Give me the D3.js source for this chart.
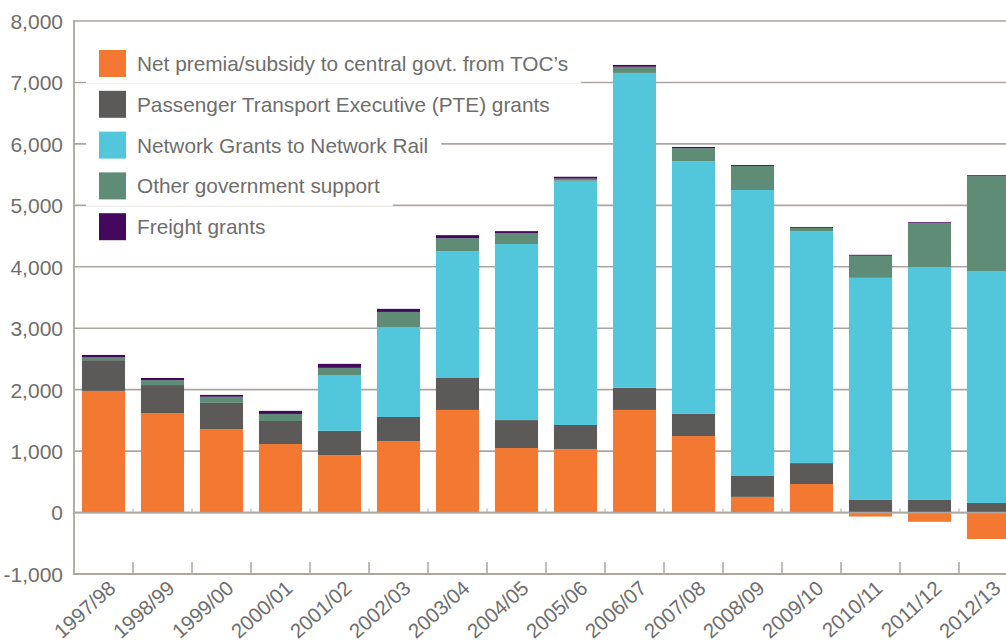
<!DOCTYPE html>
<html>
<head>
<meta charset="utf-8">
<script src="https://cdn.jsdelivr.net/npm/d3@7/dist/d3.min.js"></script>
<style>
  html, body { margin: 0; padding: 0; background: #fff; overflow: hidden; }
  svg { display: block; font-family: "Liberation Sans", Arial, Helvetica, sans-serif; }
</style>
</head>
<body>
<svg id="chart" width="1006" height="642"></svg>
<script>
// Rail industry government support by year (£m)
const years = ["1997/98","1998/99","1999/00","2000/01","2001/02","2002/03","2003/04","2004/05",
               "2005/06","2006/07","2007/08","2008/09","2009/10","2010/11","2011/12","2012/13"];

const netPremia     = [1980, 1620, 1360, 1115,  935, 1165, 1670, 1050, 1035, 1670, 1245,  255,  465,  -65, -150, -430];
const pteGrants     = [ 500,  455,  425,  375,  395,  390,  520,  455,  390,  360,  360,  340,  340,  205,  205,  155];
const networkGrants = [   0,    0,    0,    0,  900, 1465, 2065, 2865, 3975, 5125, 4115, 4655, 3775, 3615, 3790, 3775];
const otherSupport  = [  45,   80,  100,  115,  125,  245,  210,  180,   35,  100,  210,  390,   50,  360,  715, 1545];
const freightGrants = [  40,   35,   30,   50,   65,   50,   50,   30,   30,   30,   20,   15,   15,   15,   15,   15];

const seriesNames = [
  "Net premia/subsidy to central govt. from TOC\u2019s",
  "Passenger Transport Executive (PTE) grants",
  "Network Grants to Network Rail",
  "Other government support",
  "Freight grants"
];
const seriesColors = ["#f37831", "#5b5a58", "#52c7db", "#5e8c76", "#44095c"];
const yTicks = [-1000, 0, 1000, 2000, 3000, 4000, 5000, 6000, 7000, 8000];

const keys = ["net", "pte", "network", "other", "freight"];
const rows = years.map((yr, i) => ({
  year: yr, net: netPremia[i], pte: pteGrants[i], network: networkGrants[i],
  other: otherSupport[i], freight: freightGrants[i]
}));

const svg = d3.select("#chart");
const plotLeft = 74, plotTop = 21, plotBottom = 574, plotRight = 1006;

const x = d3.scaleBand().domain(years).range([plotLeft, 1018]).paddingInner(0.27).paddingOuter(0.135);
const y = d3.scaleLinear().domain([-1000, 8000]).range([plotBottom, plotTop]);

const gridColor = "#aca6a1";
const textColor = "#6e6e6e";
const gapX = d => x(d) - x.step() * x.paddingInner() / 2;

// horizontal gridlines
svg.append("g").selectAll("line").data(yTicks.filter(t => t !== -1000)).join("line")
  .attr("x1", plotLeft).attr("x2", plotRight)
  .attr("y1", d => y(d)).attr("y2", d => y(d))
  .attr("stroke", gridColor).attr("stroke-width", 1.6);

// stacked bars (negative values stack below zero)
const stack = d3.stack().keys(keys).offset(d3.stackOffsetDiverging);
const layers = stack(rows);

svg.append("g").selectAll("g").data(layers).join("g")
  .attr("fill", (d, i) => seriesColors[i])
  .selectAll("rect").data(d => d).join("rect")
  .attr("x", d => x(d.data.year))
  .attr("width", x.bandwidth())
  .attr("y", d => y(Math.max(d[0], d[1])))
  .attr("height", d => Math.abs(y(d[0]) - y(d[1])));

// zero line redrawn on top of bars
svg.append("line")
  .attr("x1", plotLeft).attr("x2", plotRight).attr("y1", y(0)).attr("y2", y(0))
  .attr("stroke", gridColor).attr("stroke-width", 1.8);

// small ticks on zero line between categories
svg.append("g").selectAll("line").data(years.slice(1)).join("line")
  .attr("x1", gapX).attr("x2", gapX)
  .attr("y1", y(0) - 4).attr("y2", y(0))
  .attr("stroke", gridColor).attr("stroke-width", 1);

// left axis line
svg.append("line")
  .attr("x1", plotLeft).attr("x2", plotLeft).attr("y1", plotTop - 1).attr("y2", plotBottom + 1)
  .attr("stroke", gridColor).attr("stroke-width", 1.8);

// bottom axis with upward category ticks
const xAxis = d3.axisBottom(x).tickSize(0);
const xg = svg.append("g").attr("transform", `translate(0,${plotBottom})`).call(xAxis);
xg.select(".domain").remove();
xg.attr("font-family", null).attr("font-size", null);
svg.append("line")
  .attr("x1", plotLeft).attr("x2", plotRight).attr("y1", plotBottom).attr("y2", plotBottom)
  .attr("stroke", gridColor).attr("stroke-width", 1.8);
svg.append("g").selectAll("line").data(years.slice(1)).join("line")
  .attr("x1", gapX).attr("x2", gapX)
  .attr("y1", plotBottom - 12).attr("y2", plotBottom)
  .attr("stroke", gridColor).attr("stroke-width", 1.5);

xg.selectAll(".tick text")
  .attr("fill", textColor)
  .attr("font-size", 20.5)
  .attr("text-anchor", "end")
  .attr("dy", 0).attr("x", 0).attr("y", 0)
  .attr("transform", `translate(${x.bandwidth() / 2 - 8},16) rotate(-42)`);

// y axis labels
const yAxis = d3.axisLeft(y).tickValues(yTicks).tickSize(0).tickPadding(11)
  .tickFormat(d => d3.format(",")(d).replace("\u2212", "-"));
const yg = svg.append("g").attr("transform", `translate(${plotLeft},0)`).call(yAxis);
yg.select(".domain").remove();
yg.attr("font-family", null).attr("font-size", null);
yg.selectAll(".tick text").attr("fill", textColor).attr("font-size", 21).attr("dy", "0.35em");

// legend, each entry masking the gridlines behind it
const legend = svg.append("g");
seriesNames.forEach((name, i) => {
  const cy = 63.5 + i * 40.8;
  const g = legend.append("g");
  const bg = g.append("rect").attr("fill", "#fff");
  g.append("rect").attr("x", 99).attr("y", cy - 13.5).attr("width", 27).attr("height", 27)
    .attr("fill", seriesColors[i]);
  const t = g.append("text").attr("x", 137).attr("y", cy).attr("dy", "0.36em")
    .attr("font-size", 20.8).attr("fill", textColor).text(name);
  const w = t.node().getComputedTextLength();
  bg.attr("x", 86).attr("y", cy - 20).attr("width", 137 + w + 13 - 86).attr("height", 40);
});
</script>
</body>
</html>
